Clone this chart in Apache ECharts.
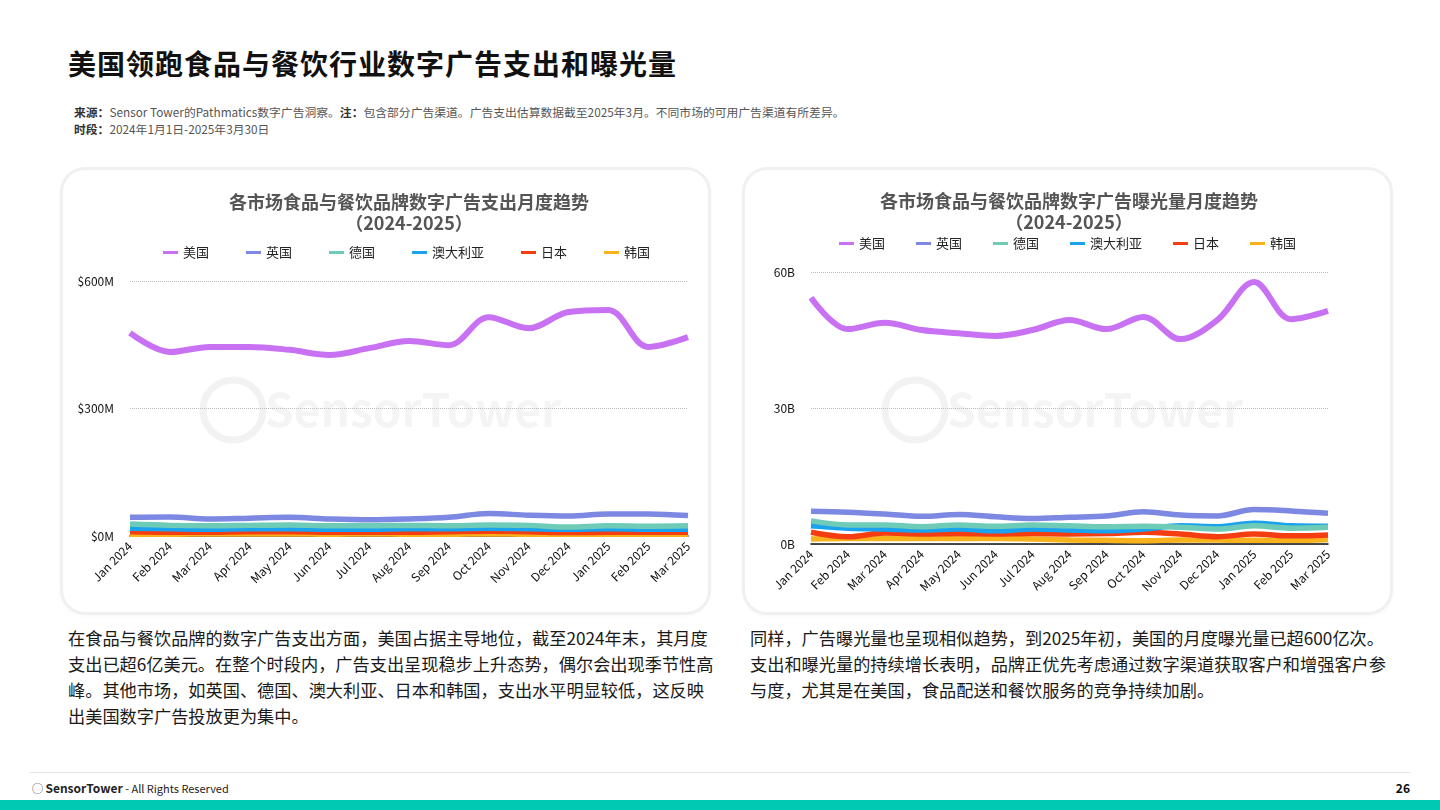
<!DOCTYPE html>
<html>
<head>
<meta charset="utf-8">
<script src="https://cdn.jsdelivr.net/npm/echarts@6/dist/echarts.min.js"></script>
<style>
  body { margin: 0; width: 1440px; height: 810px; background: #fff; position: relative; overflow: hidden;
         font-family: "Noto Sans CJK SC", "Noto Sans", sans-serif; color: #111; }
  .title { position: absolute; left: 68px; top: 43px; font-size: 28px; font-weight: 700; letter-spacing: 1px; }
  .src { position: absolute; left: 74px; top: 103px; font-size: 11.8px; color: #555; line-height: 17px; }
  .src b { color: #333; }
  .card { position: absolute; top: 170px; width: 645px; height: 442px; border-radius: 22px;
          background: #fff; box-shadow: 0 0 0 3px #f0f0f0, 0 2px 6px rgba(0,0,0,0.06); }
  .card .chart { width: 100%; height: 100%; }
  .para { position: absolute; top: 625px; font-size: 17.2px; line-height: 26px; color: #1a1a1a; }
  .foot-line { position: absolute; left: 30px; right: 30px; top: 772px; height: 1px; background: #e6e6e6; }
  .foot { position: absolute; left: 32px; top: 779px; font-size: 11px; color: #222; }
  .foot b { font-size: 12px; }
  .page { position: absolute; right: 30px; top: 779px; font-size: 12px; font-weight: 700; }
  .bar { position: absolute; left: 0; right: 0; bottom: 0; height: 10px; background: #00c9b1; }
</style>
</head>
<body>
<div class="title">美国领跑食品与餐饮行业数字广告支出和曝光量</div>
<div class="src"><b>来源：</b>Sensor Tower的Pathmatics数字广告洞察。<b>注：</b>包含部分广告渠道。广告支出估算数据截至2025年3月。不同市场的可用广告渠道有所差异。<br><b>时段：</b>2024年1月1日-2025年3月30日</div>

<div class="card" style="left:63px"><div id="c1" class="chart"></div></div>
<div class="card" style="left:745px"><div id="c2" class="chart"></div></div>

<div class="para" style="left:68px; width:646px">在食品与餐饮品牌的数字广告支出方面，美国占据主导地位，截至2024年末，其月度支出已超6亿美元。在整个时段内，广告支出呈现稳步上升态势，偶尔会出现季节性高峰。其他市场，如英国、德国、澳大利亚、日本和韩国，支出水平明显较低，这反映出美国数字广告投放更为集中。</div>
<div class="para" style="left:750px; width:646px">同样，广告曝光量也呈现相似趋势，到2025年初，美国的月度曝光量已超600亿次。支出和曝光量的持续增长表明，品牌正优先考虑通过数字渠道获取客户和增强客户参与度，尤其是在美国，食品配送和餐饮服务的竞争持续加剧。</div>

<div class="foot-line"></div>
<div class="foot">&#9711; <b>SensorTower</b> - All Rights Reserved</div>
<div class="page">26</div>
<div class="bar"></div>

<script>
// 月份
const months = ['Jan 2024', 'Feb 2024', 'Mar 2024', 'Apr 2024', 'May 2024', 'Jun 2024', 'Jul 2024',
  'Aug 2024', 'Sep 2024', 'Oct 2024', 'Nov 2024', 'Dec 2024', 'Jan 2025', 'Feb 2025', 'Mar 2025'];
const markets = ['美国', '英国', '德国', '澳大利亚', '日本', '韩国'];
const colors = ['#c872f3', '#7c88e2', '#6dcbb8', '#1aa2ee', '#f53d12', '#f7b21c'];

// 广告支出（百万美元）
const spendUS = [478, 433, 445, 445, 438, 426, 442, 459, 449, 515, 489, 527, 532, 445, 468];
const spendUK = [44, 45, 40, 42, 44, 40, 38, 40, 44, 53, 49, 47, 52, 52, 48];
const spendDE = [28, 25, 24, 25, 26, 24, 24, 25, 24, 26, 25, 21, 24, 23, 24];
const spendAU = [18, 17, 16, 17, 17, 16, 16, 17, 17, 18, 17, 16, 17, 16, 16];
const spendJP = [10, 9, 9, 10, 10, 9, 9, 9, 10, 11, 10, 8, 9, 9, 9];
const spendKR = [4, 4, 5, 5, 5, 4, 5, 4, 4, 5, 4, 4, 4, 4, 4];

// 曝光量（十亿次）
const imprUS = [54.3, 47.4, 48.8, 47.2, 46.5, 45.9, 47.2, 49.4, 47.4, 50.1, 45.2, 49.4, 57.8, 49.6, 51.4];
const imprUK = [7.2, 7.0, 6.6, 6.1, 6.5, 6.0, 5.6, 5.9, 6.2, 7.1, 6.4, 6.2, 7.6, 7.3, 6.8];
const imprDE = [5.1, 4.2, 4.2, 3.8, 4.2, 3.9, 4.2, 4.0, 3.8, 3.9, 3.7, 3.3, 4.0, 3.5, 3.7];
const imprAU = [4.0, 3.5, 3.3, 3.1, 3.3, 2.9, 3.3, 3.1, 2.9, 3.3, 4.0, 3.8, 4.6, 4.0, 3.9];
const imprJP = [2.6, 1.6, 2.4, 2.2, 2.3, 2.2, 2.3, 2.2, 2.3, 2.6, 2.2, 1.6, 2.2, 1.8, 2.0];
const imprKR = [1.1, 1.2, 1.2, 1.2, 1.2, 1.2, 1.1, 0.9, 0.8, 0.7, 0.9, 0.9, 0.8, 0.8, 1.0];

const spendTicks = [0, 300, 600];
const imprTicks = [0, 30, 60];

const font = '"Noto Sans CJK SC", "Noto Sans", sans-serif';

function watermark(cx, cy) {
  return [
    { type: 'circle', shape: { cx: cx - 160, cy: cy, r: 30 }, style: { fill: 'none', stroke: 'rgba(0,0,0,0.05)', lineWidth: 7 } },
    { type: 'text', style: { x: cx + 20, y: cy, text: 'SensorTower', fill: 'rgba(0,0,0,0.045)', font: 'bold 46px ' + font, align: 'center', verticalAlign: 'middle' } }
  ];
}

function makeChart(el, opt) {
  const chart = echarts.init(document.getElementById(el));
  const series = opt.data.map((d, i) => ({
    name: markets[i], type: 'line', data: d, smooth: 0.35, symbol: 'none',
    lineStyle: { width: i === 0 ? 6 : 5.5, color: colors[i] }, itemStyle: { color: colors[i] },
    z: 10 - i
  }));
  chart.setOption({
    textStyle: { fontFamily: font },
    title: {
      text: opt.title, left: opt.centerX, textAlign: 'center', top: opt.titleTop,
      textStyle: { fontSize: 18, fontWeight: 'bold', color: '#555', lineHeight: 21 }
    },
    graphic: watermark(opt.wmX, opt.wmY),
    legend: {
      data: markets.map((m, i) => ({ name: m, itemStyle: { color: colors[i] } })),
      top: opt.legendTop, left: opt.legendLeft, icon: 'rect', itemWidth: 15, itemHeight: 3, itemGap: opt.legendGap,
      textStyle: { fontSize: 13, color: '#222' }
    },
    grid: opt.grid,
    xAxis: {
      type: 'category', data: months, boundaryGap: false,
      axisLine: { show: true, lineStyle: { color: '#111', width: 1.5 } },
      axisTick: { show: false },
      axisLabel: { rotate: 45, fontSize: 12, color: '#111', interval: 0, margin: 8 }
    },
    yAxis: {
      type: 'value', min: opt.ticks[0], max: opt.ticks[2], interval: opt.ticks[1] - opt.ticks[0],
      axisLine: { show: false }, axisTick: { show: false },
      axisLabel: { fontSize: 12, color: '#111', formatter: opt.fmt, margin: 16 },
      splitLine: { lineStyle: { color: '#bbb', type: 'dotted' } }
    },
    series: series
  });
}

makeChart('c1', {
  title: '各市场食品与餐饮品牌数字广告支出月度趋势\n（2024-2025）', titleTop: 17, centerX: 341,
  legendTop: 71, legendLeft: 95, legendGap: 37,
  grid: { left: 67, right: 20, top: 111, bottom: 76 },
  ticks: spendTicks, fmt: v => '$' + v + 'M',
  data: [spendUS, spendUK, spendDE, spendAU, spendJP, spendKR],
  wmX: 330, wmY: 240
});
makeChart('c2', {
  title: '各市场食品与餐饮品牌数字广告曝光量月度趋势\n（2024-2025）', titleTop: 16, centerX: 319,
  legendTop: 62, legendLeft: 'center', legendGap: 31,
  grid: { left: 66, right: 62, top: 102, bottom: 68 },
  ticks: imprTicks, fmt: v => v + 'B',
  data: [imprUS, imprUK, imprDE, imprAU, imprJP, imprKR],
  wmX: 330, wmY: 240
});
</script>
</body>
</html>
